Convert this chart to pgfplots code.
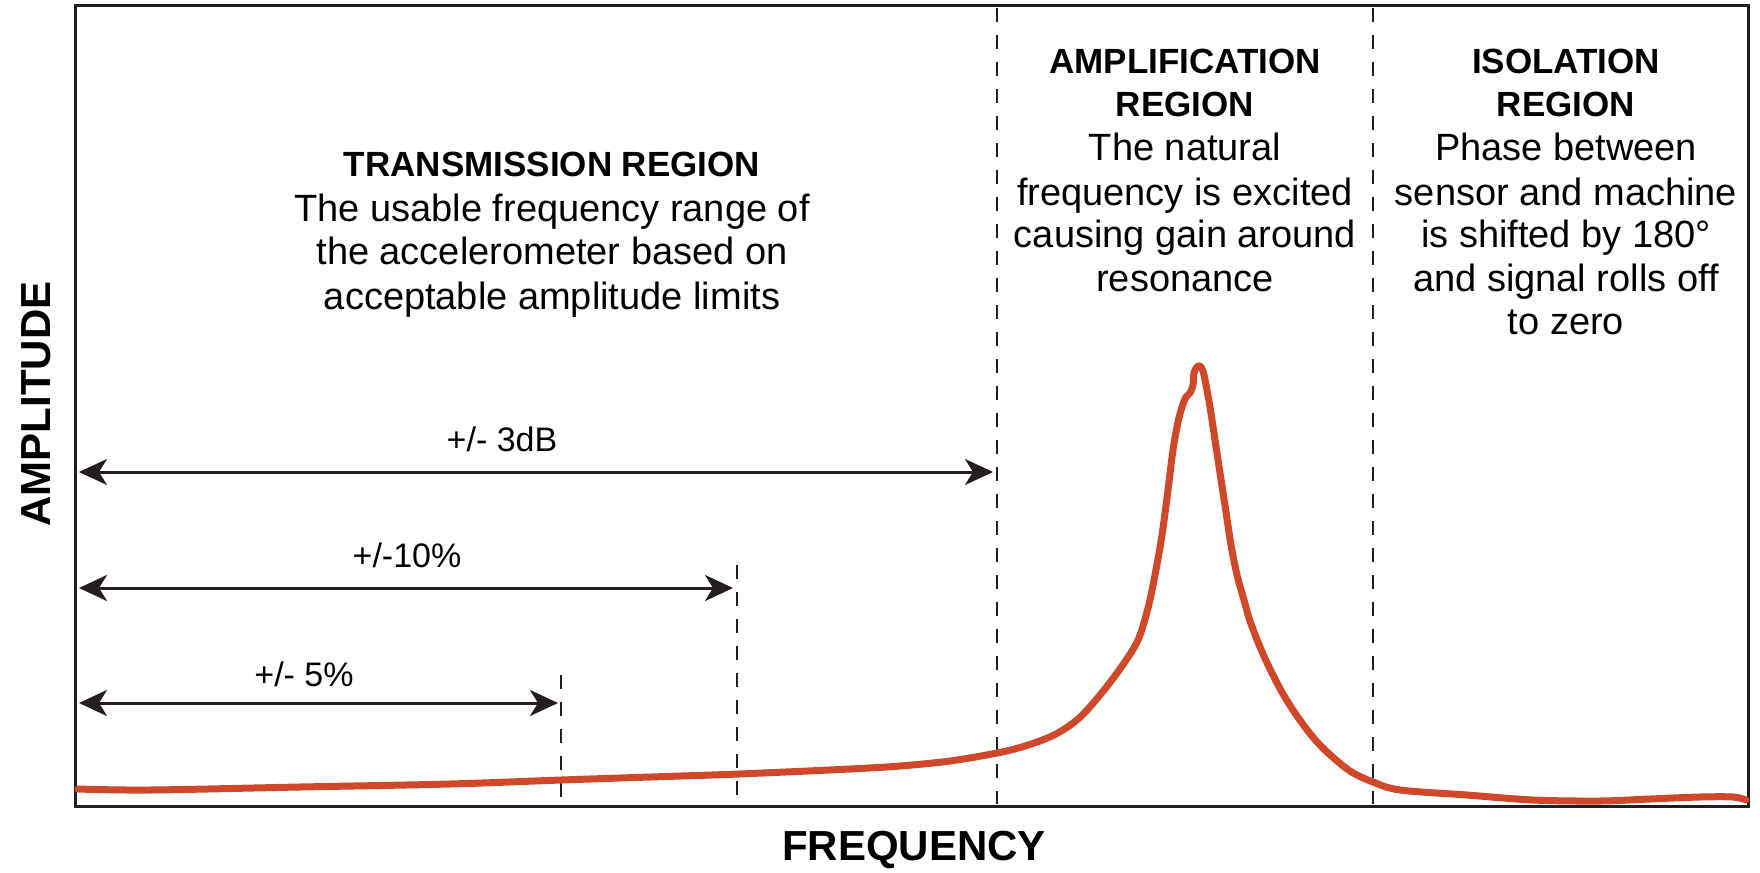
\documentclass[border=0pt]{standalone}
\usepackage{pgfplots}
\pgfplotsset{compat=1.18}
\usetikzlibrary{arrows.meta}
\usepackage{fontspec}
\setmainfont{Liberation Sans}
\definecolor{curvec}{HTML}{D0482A}
\definecolor{ink}{HTML}{231F20}
\newcommand{\ttl}{\fontsize{17.5pt}{21pt}\selectfont\bfseries}
\newcommand{\bdy}{\fontsize{19pt}{22pt}\selectfont}
\newcommand{\arl}{\fontsize{17pt}{20pt}\selectfont}
\newcommand{\axl}{\fontsize{21pt}{24pt}\selectfont\bfseries}
\begin{document}
\begin{tikzpicture}
\begin{axis}[
  scale only axis, width=836pt, height=400pt,
  xmin=76, xmax=1748, ymin=6, ymax=806, y dir=reverse,
  axis line style={ink, line width=1.5pt},
  ticks=none, clip=false,
  dashed region/.style={ink, line width=1.3pt, dash pattern=on 7pt off 6.5pt},
  range arrow/.style={ink, line width=1.5pt, {Stealth[length=14pt,width=13pt,inset=4pt]}-{Stealth[length=14pt,width=13pt,inset=4pt]}},
]
\path (axis cs:0,0) rectangle (axis cs:1760,872);
% region boundaries
\addplot[dashed region] coordinates {(997,8) (997,804)};
\addplot[dashed region] coordinates {(1373,8) (1373,804)};
\addplot[dashed region] coordinates {(737,565) (737,800)};
\addplot[dashed region] coordinates {(561,675) (561,800)};
% range arrows
\addplot[range arrow] coordinates {(79,472) (993,472)};
\addplot[range arrow] coordinates {(79,588) (733,588)};
\addplot[range arrow] coordinates {(79,703) (558,703)};
% response curve
\addplot[curvec, line width=3.5pt, smooth, tension=0.55, line join=round, line cap=round] coordinates {
(78,789) (150,790) (300,787) (450,784) (561,780) (650,777) (739,774) (850,769) (900,766) (950,761) (997,753) (1025,746) (1054,735) (1078,719) (1100,695) (1122,666) (1138,640) (1148,608) (1155,575) (1162,535) (1168,490) (1173,450) (1178,422) (1182,407) (1186,397) (1190,393) (1193,385) (1194,373) (1197,367) (1200,366) (1203,371) (1206,385) (1210,407) (1215,440) (1220,473) (1226,512) (1231,545) (1237,575) (1244,600) (1250,621) (1260,647) (1270,669) (1283,694) (1297,716) (1312,736) (1327,752) (1350,771) (1373,782) (1400,790) (1467,795) (1533,800) (1600,801) (1650,799) (1700,797) (1733,797) (1746,800)
};
% arrow labels
\node[anchor=base, inner sep=0pt, font=\arl] at (axis cs:502,451) {+/- 3dB};
\node[anchor=base, inner sep=0pt, font=\arl] at (axis cs:407,567) {+/-10\%};
\node[anchor=base, inner sep=0pt, font=\arl] at (axis cs:304,686) {+/- 5\%};
% transmission
\node[anchor=base, inner sep=0pt, font=\ttl] at (axis cs:552,176) {TRANSMISSION REGION};
\node[anchor=base, inner sep=0pt, font=\bdy] at (axis cs:552,221) {The usable frequency range of};
\node[anchor=base, inner sep=0pt, font=\bdy] at (axis cs:552,264) {the accelerometer based on};
\node[anchor=base, inner sep=0pt, font=\bdy] at (axis cs:552,309) {acceptable amplitude limits};
% amplification
\node[anchor=base, inner sep=0pt, font=\ttl] at (axis cs:1185,74) {AMPLIFICATION};
\node[anchor=base, inner sep=0pt, font=\ttl] at (axis cs:1185,117) {REGION};
\node[anchor=base, inner sep=0pt, font=\bdy] at (axis cs:1185,161) {The natural};
\node[anchor=base, inner sep=0pt, font=\bdy] at (axis cs:1185,205) {frequency is excited};
\node[anchor=base, inner sep=0pt, font=\bdy] at (axis cs:1185,247) {causing gain around};
\node[anchor=base, inner sep=0pt, font=\bdy] at (axis cs:1185,291) {resonance};
% isolation
\node[anchor=base, inner sep=0pt, font=\ttl] at (axis cs:1566,74) {ISOLATION};
\node[anchor=base, inner sep=0pt, font=\ttl] at (axis cs:1566,117) {REGION};
\node[anchor=base, inner sep=0pt, font=\bdy] at (axis cs:1566,161) {Phase between};
\node[anchor=base, inner sep=0pt, font=\bdy] at (axis cs:1566,205) {sensor and machine};
\node[anchor=base, inner sep=0pt, font=\bdy] at (axis cs:1566,247) {is shifted by 180°};
\node[anchor=base, inner sep=0pt, font=\bdy] at (axis cs:1566,291) {and signal rolls off};
\node[anchor=base, inner sep=0pt, font=\bdy] at (axis cs:1566,334) {to zero};
% axis labels
\node[rotate=90, inner sep=0pt, font=\axl] at (axis cs:36,404) {AMPLITUDE};
\node[inner sep=0pt, font=\axl] at (axis cs:914,850) {FREQUENCY};
\end{axis}
\end{tikzpicture}
\end{document}
